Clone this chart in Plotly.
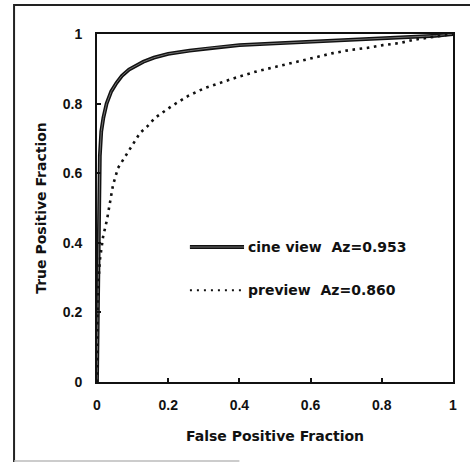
import plotly.graph_objects as go

# cine view ROC curve (solid)
cine_fpr = [0, 0.003, 0.005, 0.008, 0.012, 0.018, 0.027, 0.04, 0.055, 0.07, 0.09, 0.11, 0.13,
            0.16, 0.2, 0.26, 0.32, 0.4, 0.5, 0.6, 0.7, 0.8, 0.9, 0.95, 1.0]
cine_tpr = [0, 0.3, 0.5, 0.65, 0.72, 0.76, 0.80, 0.835, 0.86, 0.88, 0.898, 0.91, 0.92,
            0.932, 0.943, 0.952, 0.96, 0.968, 0.973, 0.978, 0.982, 0.987, 0.992, 0.995, 1.0]

# preview ROC curve (dotted)
prev_fpr = [0, 0.002, 0.008, 0.017, 0.028, 0.037, 0.045, 0.059, 0.073, 0.087, 0.101, 0.121,
            0.14, 0.163, 0.21, 0.256, 0.303, 0.35, 0.4, 0.45, 0.5, 0.57, 0.618, 0.663, 0.71,
            0.758, 0.803, 0.851, 0.888, 0.907, 0.95, 1.0]
prev_tpr = [0, 0.25, 0.35, 0.417, 0.466, 0.517, 0.566, 0.615, 0.638, 0.661, 0.687, 0.716,
            0.733, 0.759, 0.793, 0.822, 0.845, 0.862, 0.878, 0.893, 0.905, 0.922, 0.934, 0.945,
            0.954, 0.96, 0.968, 0.974, 0.983, 0.986, 0.993, 1.0]

series_names = ["cine view\u00a0\u00a0Az=0.953", "preview\u00a0\u00a0Az=0.860"]
tick_vals = [0, 0.2, 0.4, 0.6, 0.8, 1]
tick_text = ["0", "0.2", "0.4", "0.6", "0.8", "1"]

TICKFONT = dict(family="Liberation Sans, Arial, sans-serif", size=14, color="#111", weight="bold")
TEXTFONT = dict(family="DejaVu Sans, sans-serif", size=14, color="#111", weight="bold")

fig = go.Figure()
fig.add_trace(go.Scatter(x=cine_fpr, y=cine_tpr, mode="lines",
                         line=dict(color="#111", width=3.8), showlegend=False))
fig.add_trace(go.Scatter(x=cine_fpr, y=cine_tpr, mode="lines",
                         line=dict(color="#707070", width=1.0), showlegend=False))
fig.add_trace(go.Scatter(x=prev_fpr, y=prev_tpr, mode="lines",
                         line=dict(color="#111", width=2.6, dash="2.6px,4.6px"), showlegend=False))

# manual legend
lx0, lx1, tx = 0.261, 0.413, 0.418
ly = [0.388, 0.264]
fig.add_shape(type="line", xref="paper", yref="paper", x0=lx0, x1=lx1, y0=ly[0], y1=ly[0],
              line=dict(color="#111", width=4))
fig.add_shape(type="line", xref="paper", yref="paper", x0=lx0, x1=lx1, y0=ly[0], y1=ly[0],
              line=dict(color="#707070", width=1.2))
fig.add_shape(type="line", xref="paper", yref="paper", x0=lx0, x1=lx1, y0=ly[1], y1=ly[1],
              line=dict(color="#111", width=2, dash="2px,5px"))
for name, yy in zip(series_names, ly):
    fig.add_annotation(x=tx, y=yy, xref="paper", yref="paper", text=name, showarrow=False,
                       xanchor="left", yanchor="middle", font=TEXTFONT)

# outer frame (left + top) and faint bottom
fig.add_shape(type="path", xref="paper", yref="paper",
              path="M 1.06 1.083 L -0.233 1.083 L -0.233 -0.23",
              line=dict(color="#222", width=2))
fig.add_shape(type="line", xref="paper", yref="paper", x0=-0.233, x1=0.4, y0=-0.227, y1=-0.227,
              line=dict(color="#bbb", width=1.5))

axis_common = dict(range=[0, 1], tickvals=tick_vals, ticktext=tick_text, ticks="inside",
                   ticklen=4, tickwidth=1.5, tickcolor="#111", showline=True, linecolor="#111",
                   linewidth=2, mirror=True, showgrid=False, zeroline=False, tickfont=TICKFONT,
                   fixedrange=True)

fig.update_layout(
    width=470, height=463,
    margin=dict(l=97, r=17, t=34, b=81),
    paper_bgcolor="white", plot_bgcolor="white",
    xaxis=dict(**axis_common, ticklabelstandoff=9,
               title=dict(text="False Positive Fraction", font=TEXTFONT, standoff=19)),
    yaxis=dict(**axis_common, ticklabelstandoff=10,
               title=dict(text="True Positive Fraction", font=TEXTFONT, standoff=13)),
    showlegend=False,
)

fig.write_html("out.html")
